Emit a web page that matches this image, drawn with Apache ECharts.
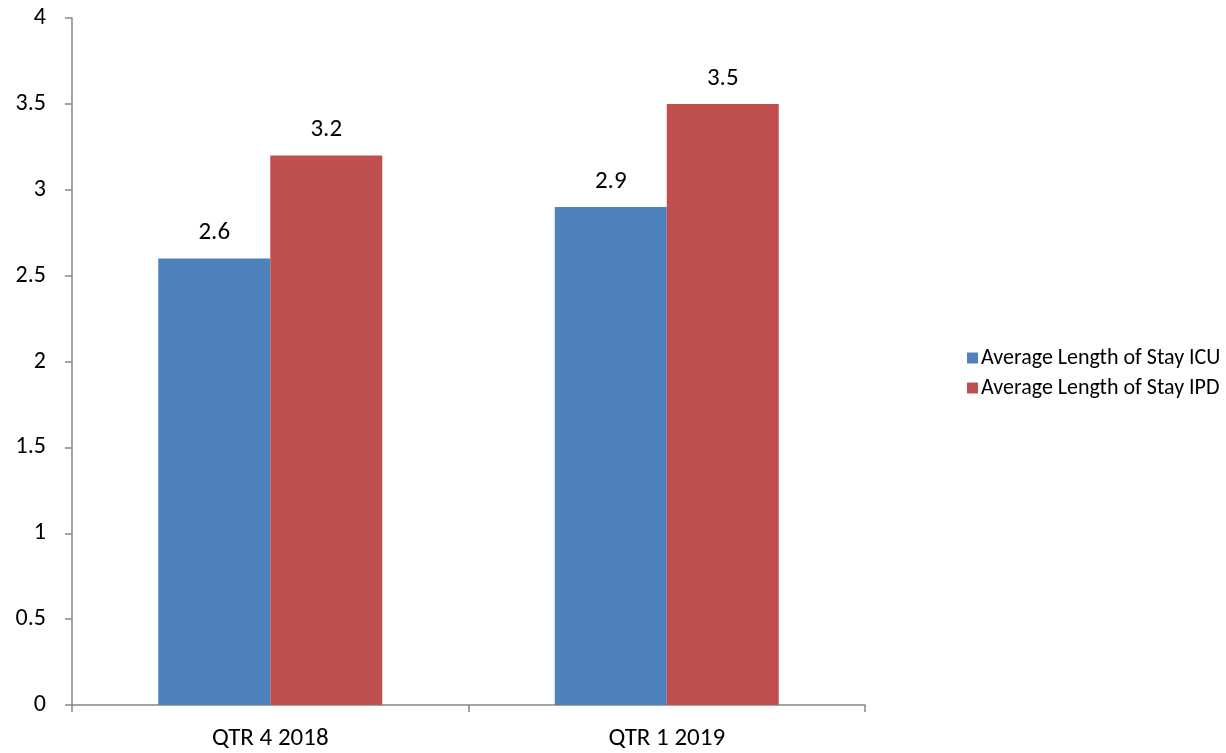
<!DOCTYPE html>
<html>
<head>
<meta charset="utf-8">
<script src="https://cdn.jsdelivr.net/npm/echarts@6/dist/echarts.min.js"></script>
<style>
  html, body { margin: 0; padding: 0; background: #fff; }
  #chart { width: 1226px; height: 753px; }
</style>
</head>
<body>
<div id="chart"></div>
<script>
// data
const categories = ['QTR 4 2018', 'QTR 1 2019'];
const icuValues = [2.6, 2.9];
const ipdValues = [3.2, 3.5];
const seriesNames = ['Average Length of Stay ICU', 'Average Length of Stay IPD'];

const font = 'Calibri, Carlito, "Open Sans", sans-serif';
const myChart = echarts.init(document.getElementById('chart'));

const labelStyle = {
    show: true,
    position: 'top',
    distance: 13,
    color: '#000',
    fontSize: 25,
    fontFamily: font
};

const option = {
    animation: false,
    grid: { left: 72, right: 361, top: 18, bottom: 48, containLabel: false },
    legend: {
        orient: 'vertical',
        left: 962,
        top: 342,
        itemWidth: 11,
        itemHeight: 11,
        itemGap: 8,
        icon: 'rect',
        textStyle: { color: '#000', fontSize: 22, fontFamily: font, padding: [0, 0, 0, -2] },
        data: seriesNames
    },
    xAxis: {
        type: 'category',
        data: categories,
        axisLine: { lineStyle: { color: '#868686', width: 1.5 } },
        axisTick: { show: true, length: 7, alignWithLabel: false, lineStyle: { color: '#868686', width: 1.5 } },
        axisLabel: { color: '#000', fontSize: 25, fontFamily: font, margin: 21 }
    },
    yAxis: {
        type: 'value',
        min: 0,
        max: 4,
        interval: 0.5,
        axisLine: { show: true, lineStyle: { color: '#868686', width: 1.5 } },
        axisTick: { show: true, length: 7, lineStyle: { color: '#868686', width: 1.5 } },
        splitLine: { show: false },
        axisLabel: { color: '#000', fontSize: 24, fontFamily: font, margin: 26 }
    },
    series: [
        {
            name: seriesNames[0],
            type: 'bar',
            data: icuValues,
            barWidth: 112,
            barGap: '0%',
            itemStyle: { color: '#4F81BD' },
            label: labelStyle
        },
        {
            name: seriesNames[1],
            type: 'bar',
            data: ipdValues,
            barWidth: 112,
            itemStyle: { color: '#C0504D' },
            label: labelStyle
        }
    ]
};

myChart.setOption(option);
</script>
</body>
</html>
